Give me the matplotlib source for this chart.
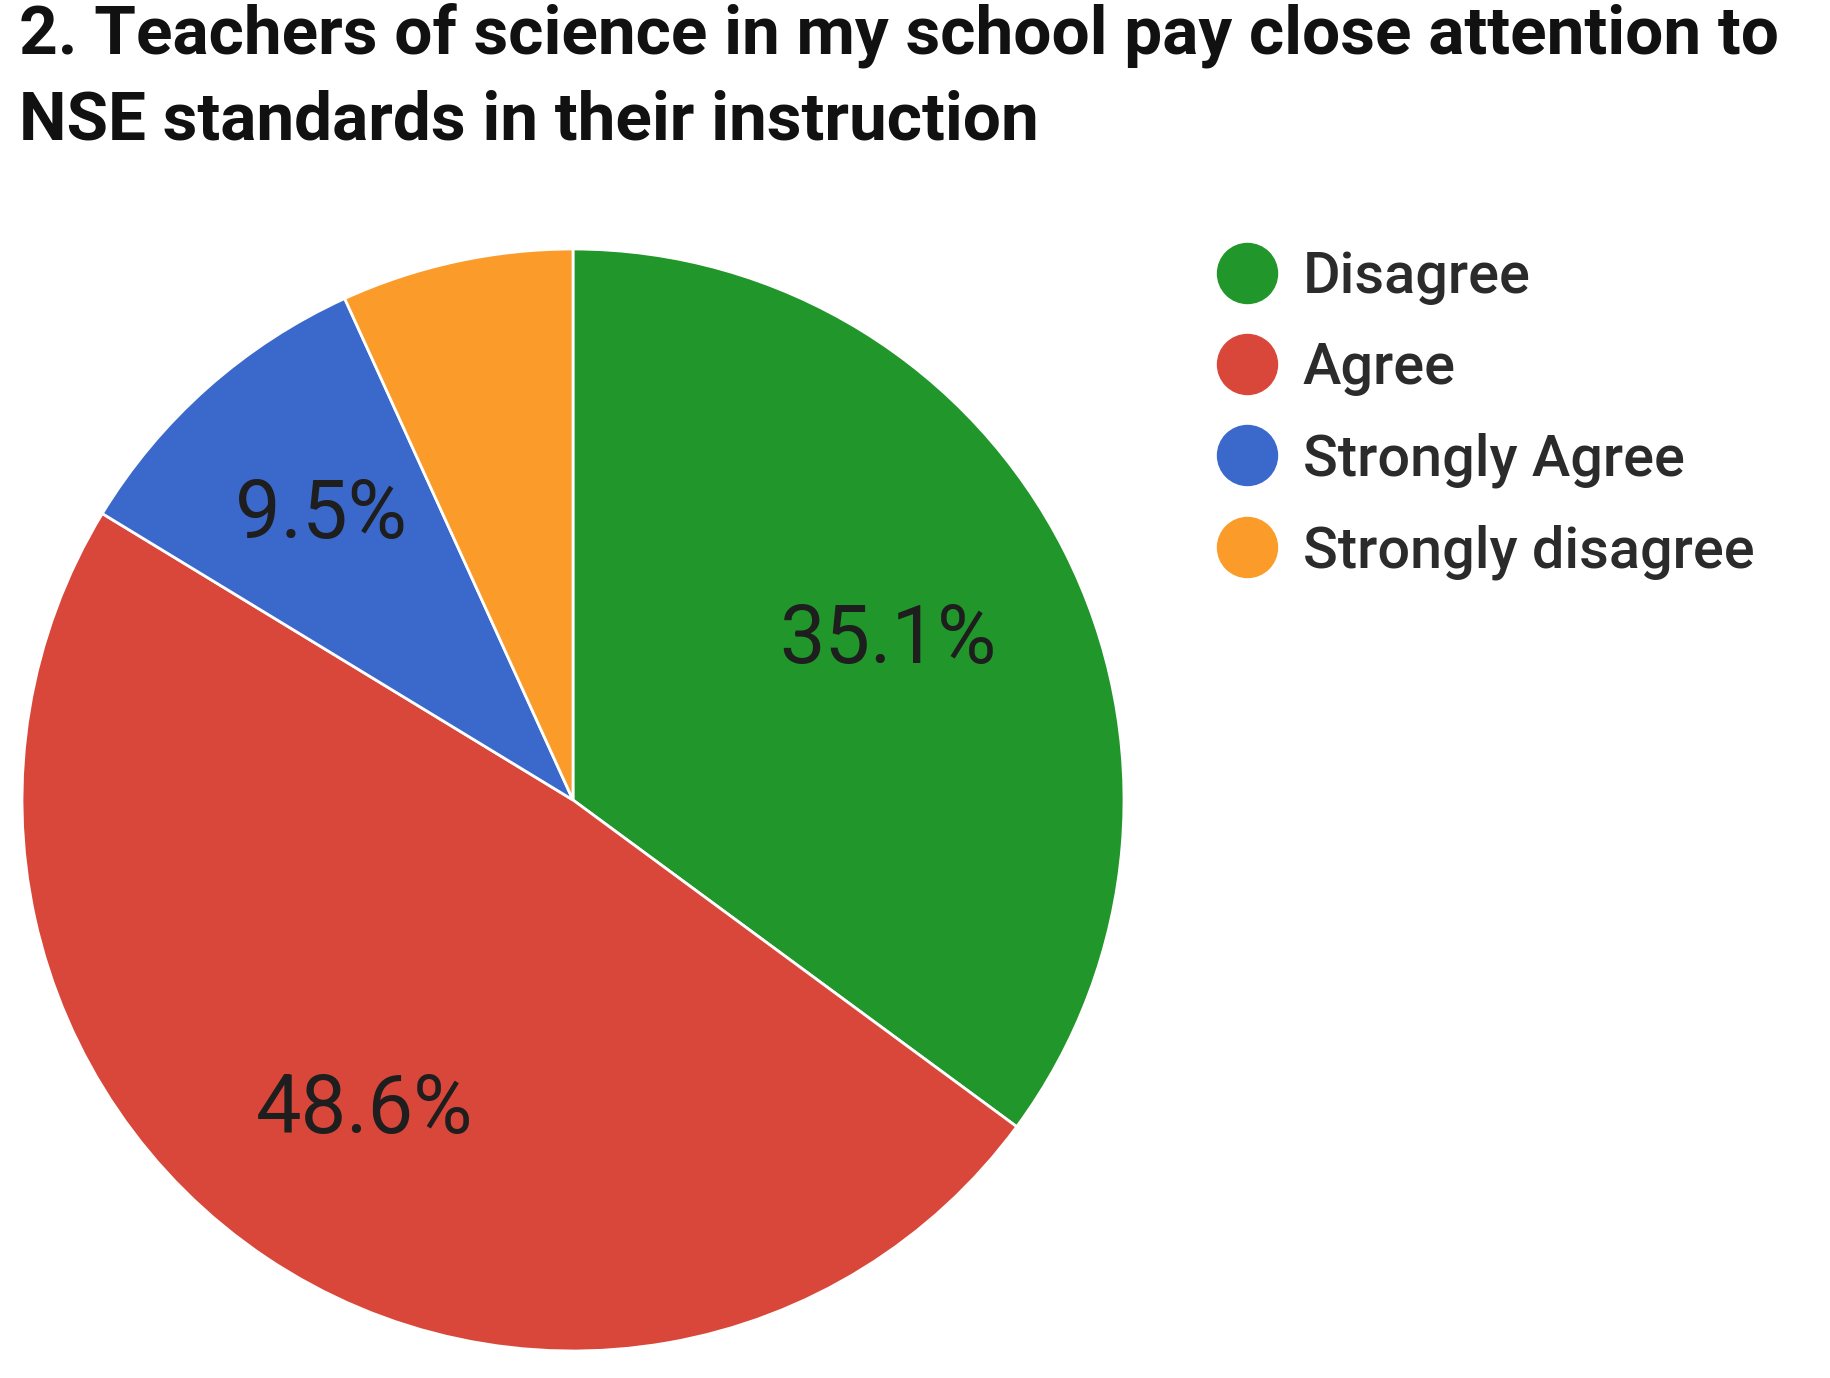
import matplotlib

matplotlib.use("Agg")
import matplotlib.pyplot as plt
import numpy as np
from matplotlib.lines import Line2D

W, H, DPI = 1830, 1378, 100

TITLE_LINES = [
    "2. Teachers of science in my school pay close attention to",
    "NSE standards in their instruction",
]
LABELS = ["Disagree", "Agree", "Strongly Agree", "Strongly disagree"]
PERCENTS = [35.1, 48.6, 9.5, 6.8]
COLORS = ["#21962a", "#d9473b", "#3a69cb", "#fb9b2a"]

# radial position of each percent label (fraction of radius)
LABEL_DIST = [0.64, 0.68, 0.69, 0.68]

plt.rcParams["font.family"] = ["Roboto", "DejaVu Sans"]


def px(v):
    return v * 72 / DPI


def main():
    fig = plt.figure(figsize=(W / DPI, H / DPI), dpi=DPI, facecolor="white")

    # pie centre (573, 800) px, radius 551 px
    cx, cy, r = 573, 800, 551
    ax = fig.add_axes([(cx - r) / W, (H - cy - r) / H, 2 * r / W, 2 * r / H])
    wedges, _ = ax.pie(
        PERCENTS,
        colors=COLORS,
        startangle=90,
        counterclock=False,
        radius=1,
        wedgeprops=dict(edgecolor="white", linewidth=2),
    )
    ax.set_xlim(-1, 1)
    ax.set_ylim(-1, 1)
    ax.set_aspect("equal")
    ax.axis("off")

    for w, pct, d in zip(wedges, PERCENTS, LABEL_DIST):
        if pct < 7:
            continue
        ang = np.deg2rad((w.theta1 + w.theta2) / 2)
        ax.text(d * np.cos(ang), d * np.sin(ang), f"{pct:.1f}%",
                ha="center", va="center", fontsize=px(81), color="#1e1e1e")

    # title
    for i, line in enumerate(TITLE_LINES):
        fig.text(19 / W, 1 - (54 + 85 * i) / H, line, ha="left", va="baseline",
                 fontsize=px(67.5), fontweight="bold", color="#111111")

    handles = [Line2D([], [], linestyle="none", marker="o", markersize=px(60),
                      markerfacecolor=c, markeredgecolor=c) for c in COLORS]
    fig.legend(handles, LABELS, loc="upper left",
               bbox_to_anchor=(1195 / W, 1 - 227 / H),
               frameon=False, handlelength=1.0,
               handletextpad=0.47, labelspacing=0.63, borderaxespad=0,
               borderpad=0.4, prop=dict(weight="medium", size=px(57.6)),
               labelcolor="#2b2b2b")

    fig.savefig("out.png", dpi=DPI, facecolor="white")
    plt.close(fig)


if __name__ == "__main__":
    main()
